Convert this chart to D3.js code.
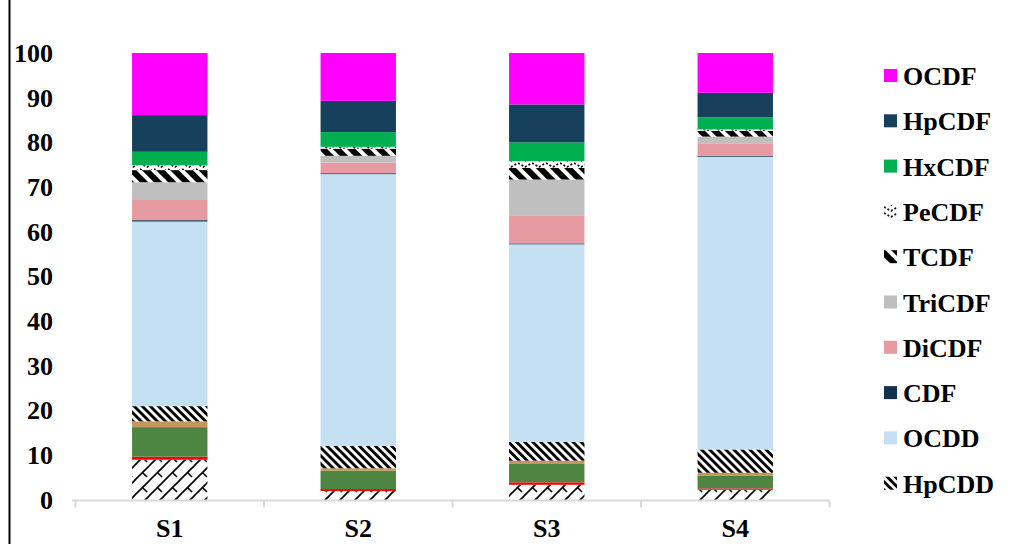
<!DOCTYPE html>
<html><head><meta charset="utf-8">
<script src="https://cdn.jsdelivr.net/npm/d3@7"></script>
<style>
html,body{margin:0;padding:0;background:#fff;}
text{font-family:"Liberation Serif","Times New Roman",serif;font-weight:bold;fill:#000;}
</style></head>
<body>
<svg id="chart" width="1012" height="544"></svg>
<script>
const categories = ["S1","S2","S3","S4"];
// bottom-to-top stacking order
const seriesKeys = ["TriCDD","TCDD","PeCDD","HxCDD","HpCDD","OCDD","CDF","DiCDF","TriCDF","TCDF","PeCDF","HxCDF","HpCDF","OCDF"];
const TriCDD = [9.0, 2.0, 3.4, 2.3];
const TCDD   = [0.7, 0.45, 0.55, 0.3];
const PeCDD  = [6.6, 4.1, 4.1, 2.9];
const HxCDD  = [1.3, 0.55, 0.75, 0.6];
const HpCDD  = [3.4, 5.0, 4.2, 5.2];
const OCDD   = [41.3, 60.8, 44.2, 65.5];
const CDF    = [0.3, 0.2, 0.2, 0.2];
const DiCDF  = [4.7, 2.4, 6.3, 2.8];
const TriCDF = [3.8, 1.5, 8.0, 1.5];
const TCDF   = [2.7, 1.6, 2.6, 1.3];
const PeCDF  = [1.1, 0.4, 1.5, 0.3];
const HxCDF  = [3.0, 3.3, 4.2, 2.7];
const HpCDF  = [8.2, 7.0, 8.5, 5.5];
const OCDF   = [13.9, 10.7, 11.5, 8.9];
const yTicks = [0,10,20,30,40,50,60,70,80,90,100];
const legendKeys = ["OCDF","HpCDF","HxCDF","PeCDF","TCDF","TriCDF","DiCDF","CDF","OCDD","HpCDD"];

const valuesByKey = {TriCDD,TCDD,PeCDD,HxCDD,HpCDD,OCDD,CDF,DiCDF,TriCDF,TCDF,PeCDF,HxCDF,HpCDF,OCDF};
const rows = categories.map((c,i)=>{const r={cat:c}; seriesKeys.forEach(k=>r[k]=valuesByKey[k][i]); return r;});

const fills = {
  TriCDD:"url(#pBrick)", TCDD:"#FF0000", PeCDD:"#4E8542", HxCDD:"#C4975A", HpCDD:"url(#pHp)",
  OCDD:"#C5E0F2", CDF:"#13324D", DiCDF:"#E69BA3", TriCDF:"#BFBFBF", TCDF:"url(#pT)",
  PeCDF:"url(#pPe)", HxCDF:"#00B050", HpCDF:"#17405D", OCDF:"#FF00FF"
};

const svg = d3.select("#chart");
const defs = svg.append("defs");
const pHp = defs.append("pattern").attr("id","pHp").attr("patternUnits","userSpaceOnUse")
  .attr("width",5.7).attr("height",5.7).attr("patternTransform","rotate(-45)");
pHp.append("rect").attr("width",5.7).attr("height",5.7).attr("fill","#fff");
pHp.append("rect").attr("width",2.9).attr("height",5.7).attr("fill","#000");
const pT = defs.append("pattern").attr("id","pT").attr("patternUnits","userSpaceOnUse")
  .attr("width",10).attr("height",10).attr("patternTransform","rotate(-45)");
pT.append("rect").attr("width",10).attr("height",10).attr("fill","#fff");
pT.append("rect").attr("width",6).attr("height",10).attr("fill","#000");
const pPe = defs.append("pattern").attr("id","pPe").attr("patternUnits","userSpaceOnUse")
  .attr("width",14).attr("height",6);
pPe.append("rect").attr("width",14).attr("height",6).attr("fill","#fff");
pPe.append("path").attr("d","M0,1 L7,5 L14,1").attr("fill","none").attr("stroke","#000").attr("stroke-width",1.6).attr("stroke-dasharray","2,2");
const pB = defs.append("pattern").attr("id","pBrick").attr("patternUnits","userSpaceOnUse")
  .attr("width",15).attr("height",15);
pB.append("rect").attr("width",15).attr("height",15).attr("fill","#fff");
pB.append("path").attr("d","M0,15 L15,0 M-2,2 L2,-2 M13,17 L17,13 M7.5,7.5 L12,12").attr("stroke","#000").attr("stroke-width",1.6).attr("fill","none");

svg.append("line").attr("x1",9.5).attr("x2",9.5).attr("y1",0).attr("y2",544).attr("stroke","#000").attr("stroke-width",2);

const x = d3.scaleBand().domain(categories).range([75.5,829.5]).paddingInner(0.6).paddingOuter(0.3);
const y = d3.scaleLinear().domain([0,100]).range([500,53]);

const layers = d3.stack().keys(seriesKeys)(rows);

svg.append("g").selectAll("g").data(layers).join("g")
  .attr("fill",d=>fills[d.key])
  .selectAll("rect").data(d=>d).join("rect")
  .attr("x",d=>x(d.data.cat)).attr("width",x.bandwidth())
  .attr("y",d=>y(d[1])).attr("height",d=>y(d[0])-y(d[1]));

const yAxis = d3.axisLeft(y).tickValues(yTicks).tickSize(0).tickPadding(0);
const gy = svg.append("g").attr("transform","translate(53,0)").call(yAxis);
gy.select(".domain").remove();
gy.selectAll("text").attr("font-size",26).attr("font-family","Liberation Serif, serif").attr("font-weight","bold").attr("fill","#000");

const step = x.step();
const gx = svg.append("g").attr("transform","translate(0,500.5)");
gx.append("line").attr("x1",72).attr("x2",829.5).attr("stroke","#D9D9D9").attr("stroke-width",2);
const bounds = d3.range(categories.length+1).map(i=>75.5+i*step);
gx.selectAll("line.t").data(bounds).join("line").attr("class","t")
  .attr("x1",d=>d).attr("x2",d=>d).attr("y1",0).attr("y2",7).attr("stroke","#D9D9D9").attr("stroke-width",2);
gx.selectAll("text").data(categories).join("text")
  .attr("x",d=>x(d)+x.bandwidth()/2).attr("y",36).attr("text-anchor","middle")
  .attr("font-size",26).text(d=>d);

const lg = svg.append("g");
const lgItems = lg.selectAll("g").data(legendKeys).join("g")
  .attr("transform",(d,i)=>`translate(884,${76+i*45.3})`);
lgItems.append("rect").attr("x",0).attr("y",-7).attr("width",13).attr("height",13).attr("fill",d=>fills[d]);
lgItems.append("text").attr("x",19).attr("y",9).attr("font-size",26).text(d=>d);
</script>
</body></html>
